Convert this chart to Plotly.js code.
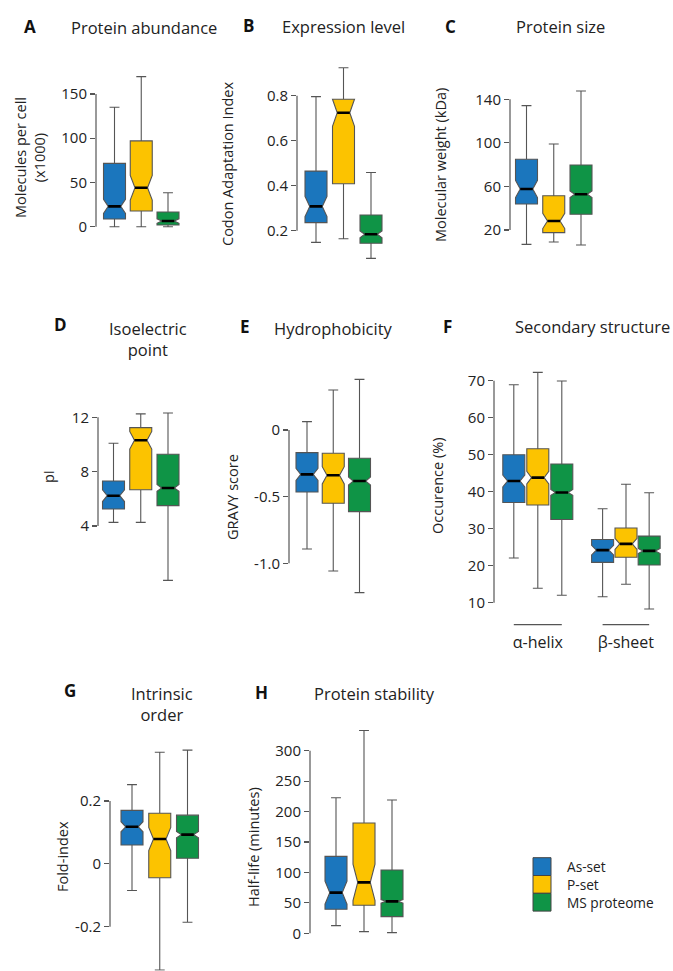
<!DOCTYPE html>
<html>
<head>
<meta charset="utf-8">
<script src="https://cdn.plot.ly/plotly-3.0.1.min.js"></script>
<style>html,body{margin:0;padding:0;background:#fff;}#chart{width:673px;height:971px;}</style>
</head>
<body>
<div id="chart"></div>
<script>
// ---------- DATA ----------
const groupNames = ['As-set', 'P-set', 'MS proteome'];

// A  Protein abundance (molecules per cell x1000)
const abundanceLow    = [0, 0, 0];
const abundanceQ1     = [8.7, 17.7, 1.9];
const abundanceMedian = [23, 44, 6.4];
const abundanceQ3     = [71.6, 97, 16.6];
const abundanceHigh   = [135, 169.6, 38.4];
const abundanceNotch  = [8, 14, 2.5];
const abundanceTicks  = [0, 50, 100, 150];
const abundanceTickText = ['0', '50', '100', '150'];

// B  Expression level (codon adaptation index)
const caiLow    = [0.148, 0.164, 0.077];
const caiQ1     = [0.236, 0.409, 0.144];
const caiMedian = [0.308, 0.724, 0.184];
const caiQ3     = [0.465, 0.784, 0.27];
const caiHigh   = [0.796, 0.924, 0.459];
const caiNotch  = [0.045, 0.06, 0.015];
const caiTicks  = [0.2, 0.4, 0.6, 0.8];
const caiTickText = ['0.2', '0.4', '0.6', '0.8'];

// C  Protein size (kDa)
const mwLow    = [6.8, 9, 6.2];
const mwQ1     = [43.9, 17.6, 34.4];
const mwMedian = [57.6, 28.3, 52.8];
const mwQ3     = [84.9, 51.5, 79.7];
const mwHigh   = [134.2, 99, 147.6];
const mwNotch  = [8, 7, 3];
const mwTicks  = [20, 60, 100, 140];
const mwTickText = ['20', '60', '100', '140'];

// D  Isoelectric point
const piLow    = [4.27, 4.27, 0];
const piQ1     = [5.25, 6.67, 5.5];
const piMedian = [6.23, 10.31, 6.8];
const piQ3     = [7.31, 11.24, 9.28];
const piHigh   = [10.09, 12.25, 12.32];
const piNotch  = [0.43, 0.65, 0.25];
const piTicks  = [4, 8, 12];
const piTickText = ['4', '8', '12'];

// E  Hydrophobicity (GRAVY score)
const gravyLow    = [-0.893, -1.058, -1.22];
const gravyQ1     = [-0.465, -0.55, -0.6125];
const gravyMedian = [-0.333, -0.34, -0.383];
const gravyQ3     = [-0.17, -0.175, -0.2125];
const gravyHigh   = [0.0625, 0.3, 0.38];
const gravyNotch  = [0.045, 0.065, 0.03];
const gravyTicks  = [-1, -0.5, 0];
const gravyTickText = ['-1.0', '-0.5', '0'];

// F  Secondary structure (occurrence %)
const structureLabels = ['α-helix', 'β-sheet'];
const helixLow    = [22.1, 13.9, 12];
const helixQ1     = [37.1, 36.4, 32.5];
const helixMedian = [42.9, 43.8, 39.8];
const helixQ3     = [50, 51.6, 47.5];
const helixHigh   = [68.9, 72.25, 69.9];
const helixNotch  = [1.6, 1.7, 0.8];
const sheetLow    = [11.6, 15, 8.3];
const sheetQ1     = [20.9, 22.3, 20.2];
const sheetMedian = [24.2, 25.9, 24];
const sheetQ3     = [27.1, 30.2, 28];
const sheetHigh   = [35.4, 42, 39.7];
const sheetNotch  = [1.3, 1.5, 0.7];
const structureTicks = [10, 20, 30, 40, 50, 60, 70];
const structureTickText = ['10', '20', '30', '40', '50', '60', '70'];

// G  Intrinsic order (fold-index)
const foldLow    = [-0.085, -0.338, -0.186];
const foldQ1     = [0.06, -0.044, 0.018];
const foldMedian = [0.118, 0.079, 0.093];
const foldQ3     = [0.17, 0.161, 0.155];
const foldHigh   = [0.252, 0.355, 0.362];
const foldNotch  = [0.016, 0.037, 0.01];
const foldTicks  = [-0.2, 0, 0.2];
const foldTickText = ['-0.2', '0', '0.2'];

// H  Protein stability (half-life, minutes)
const halfLifeLow    = [12.6, 2.7, 1.1];
const halfLifeQ1     = [39.4, 46, 27.4];
const halfLifeMedian = [66.8, 83.7, 52.5];
const halfLifeQ3     = [126.4, 181.2, 104];
const halfLifeHigh   = [222.8, 333.3, 219];
const halfLifeNotch  = [19, 30, 3];
const halfLifeTicks  = [0, 50, 100, 150, 200, 250, 300];
const halfLifeTickText = ['0', '50', '100', '150', '200', '250', '300'];

// ---------- STYLE / LAYOUT ----------
const W = 673, H = 971;
const FONT = 'Open Sans, Noto Sans, sans-serif';
const TXT = '#222';
const groupColors = ['#1b76bd', '#fcc300', '#0f9446'];
const edgeColor = '#555';
const NOTCHW = 0.215;
const BOXPX = 22;

const px = x => x / W;
const py = y => 1 - y / H;

const panels = [
  {title: 'Protein abundance', letter: 'A', yTitle: 'Molecules per cell<br>(x1000)',
   sets: [[abundanceLow, abundanceQ1, abundanceMedian, abundanceQ3, abundanceHigh, abundanceNotch]],
   ticks: abundanceTicks, tickText: abundanceTickText,
   axisX: 96, c1: 114.5, s: 26.75, xw: 100, cal: [0, 226.7, 150, 94], range: [-6, 178],
   letterXY: [30, 26], titleXY: [144, 27], yTitleXY: [30, 158]},
  {title: 'Expression level', letter: 'B', yTitle: 'Codon Adaptation Index',
   sets: [[caiLow, caiQ1, caiMedian, caiQ3, caiHigh, caiNotch]],
   ticks: caiTicks, tickText: caiTickText,
   axisX: 297, c1: 316, s: 27.5, xw: 100, cal: [0.2, 230.7, 0.8, 95.7], range: [0.05, 0.95],
   letterXY: [248, 25], titleXY: [343.5, 26], yTitleXY: [227, 164]},
  {title: 'Protein size', letter: 'C', yTitle: 'Molecular weight (kDa)',
   sets: [[mwLow, mwQ1, mwMedian, mwQ3, mwHigh, mwNotch]],
   ticks: mwTicks, tickText: mwTickText,
   axisX: 510, c1: 526.5, s: 27.25, xw: 100, cal: [20, 230, 140, 99.3], range: [2, 152],
   letterXY: [451, 26], titleXY: [560, 26], yTitleXY: [440, 165]},
  {title: 'Isoelectric<br>point', letter: 'D', yTitle: 'pI',
   sets: [[piLow, piQ1, piMedian, piQ3, piHigh, piNotch]],
   ticks: piTicks, tickText: piTickText,
   axisX: 98, c1: 113.5, s: 27.25, xw: 100, cal: [4, 526, 12, 417.3], range: [-0.8, 13],
   letterXY: [60, 325], titleXY: [148, 339], yTitleXY: [48, 477]},
  {title: 'Hydrophobicity', letter: 'E', yTitle: 'GRAVY score',
   sets: [[gravyLow, gravyQ1, gravyMedian, gravyQ3, gravyHigh, gravyNotch]],
   ticks: gravyTicks, tickText: gravyTickText,
   axisX: 289, c1: 307, s: 26.25, xw: 100, cal: [0, 430, -1, 563.3], range: [-1.28, 0.42],
   letterXY: [245, 327], titleXY: [333.5, 328], yTitleXY: [232, 497]},
  {title: 'Secondary structure', letter: 'F', yTitle: 'Occurence (%)',
   sets: [[helixLow, helixQ1, helixMedian, helixQ3, helixHigh, helixNotch],
          [sheetLow, sheetQ1, sheetMedian, sheetQ3, sheetHigh, sheetNotch]],
   setPos: [[1, 2, 3], [4.7, 5.675, 6.64]], catLabels: structureLabels,
   ticks: structureTicks, tickText: structureTickText,
   axisX: 494, c1: 513.8, s: 24, xw: 176, cal: [70, 380.7, 10, 602.7], range: [6, 74],
   letterXY: [447, 327], titleXY: [592, 327], yTitleXY: [438, 486]},
  {title: 'Intrinsic<br>order', letter: 'G', yTitle: 'Fold-index',
   sets: [[foldLow, foldQ1, foldMedian, foldQ3, foldHigh, foldNotch]],
   ticks: foldTicks, tickText: foldTickText,
   axisX: 110, c1: 132, s: 27.75, xw: 100, cal: [0.2, 801, -0.2, 926.7], range: [-0.34, 0.38],
   letterXY: [70, 690], titleXY: [162, 704], yTitleXY: [62, 857]},
  {title: 'Protein stability', letter: 'H', yTitle: 'Half-life (minutes)',
   sets: [[halfLifeLow, halfLifeQ1, halfLifeMedian, halfLifeQ3, halfLifeHigh, halfLifeNotch]],
   ticks: halfLifeTicks, tickText: halfLifeTickText,
   axisX: 310, c1: 336, s: 28, xw: 100, cal: [300, 750.7, 0, 933.3], range: [-8, 345],
   letterXY: [261, 692], titleXY: [374, 693], yTitleXY: [253, 847]}
];

const traces = [];
const layout = {
  width: W, height: H, margin: {l: 0, r: 0, t: 0, b: 0},
  paper_bgcolor: '#fff', plot_bgcolor: 'rgba(0,0,0,0)',
  showlegend: false, font: {family: FONT, color: TXT},
  shapes: [], annotations: []
};

panels.forEach((p, i) => {
  const k = i + 1;
  const xid = 'x' + (k === 1 ? '' : k), yid = 'y' + (k === 1 ? '' : k);
  const xkey = 'xaxis' + (k === 1 ? '' : k), ykey = 'yaxis' + (k === 1 ? '' : k);
  const [v1, p1, v2, p2] = p.cal;
  const toPx = v => p1 + (v - v1) * (p2 - p1) / (v2 - v1);
  const bottom = toPx(p.range[0]), top = toPx(p.range[1]);
  const r0 = 1 - (p.c1 - p.axisX) / p.s;
  const boxW = BOXPX / p.s;
  const setPos = p.setPos || [[1, 2, 3]];

  layout[xkey] = {
    domain: [px(p.axisX), px(p.axisX + p.xw)], range: [r0, r0 + p.xw / p.s],
    anchor: yid, showgrid: false, zeroline: false, showline: false, ticks: '',
    showticklabels: !!p.catLabels, fixedrange: true
  };
  if (p.catLabels) {
    layout[xkey].tickvals = setPos.map(a => (a[0] + a[a.length - 1]) / 2);
    layout[xkey].ticktext = p.catLabels;
    layout[xkey].tickfont = {size: 16, color: TXT, family: FONT};
    layout[xkey].ticklabelstandoff = 13;
    setPos.forEach(a => layout.shapes.push({
      type: 'line', xref: xid, yref: 'paper', x0: a[0], x1: a[a.length - 1],
      y0: py(624.7), y1: py(624.7), line: {color: edgeColor, width: 1.2}
    }));
  }
  layout[ykey] = {
    domain: [py(bottom), py(top)], range: p.range, anchor: xid,
    showgrid: false, zeroline: false, showline: false,
    tickvals: p.ticks, ticktext: p.tickText, ticks: 'outside', ticklen: 5,
    tickwidth: 1.1, tickcolor: edgeColor, tickfont: {size: 15, color: TXT, family: FONT},
    fixedrange: true
  };
  // axis line spanning the tick range (R-style)
  layout.shapes.push({
    type: 'line', xref: xid + ' domain', yref: yid, x0: 0, x1: 0,
    y0: Math.min(...p.ticks), y1: Math.max(...p.ticks), line: {color: edgeColor, width: 1.2}
  });

  p.sets.forEach((st, si) => {
    const [lo, q1, med, q3, hi, notch] = st;
    groupNames.forEach((g, gi) => {
      const pos = setPos[si][gi];
      traces.push({
        type: 'box', name: g, x: [pos], q1: [q1[gi]], median: [med[gi]], q3: [q3[gi]],
        lowerfence: [lo[gi]], upperfence: [hi[gi]], notchspan: [notch[gi]],
        notched: true, notchwidth: NOTCHW, width: boxW, whiskerwidth: 0.45,
        boxpoints: false, fillcolor: groupColors[gi], line: {color: edgeColor, width: 1.1},
        xaxis: xid, yaxis: yid, hoverinfo: 'skip', showlegend: false
      });
      const half = boxW / 2 * (1 - 2 * NOTCHW);
      traces.push({
        type: 'scatter', mode: 'lines', x: [pos - half, pos + half], y: [med[gi], med[gi]],
        line: {color: '#000', width: 2.6}, xaxis: xid, yaxis: yid, hoverinfo: 'skip', showlegend: false
      });
    });
  });

  layout.annotations.push({
    text: '<b>' + p.letter + '</b>', xref: 'paper', yref: 'paper',
    x: px(p.letterXY[0]), y: py(p.letterXY[1]), xanchor: 'center', yanchor: 'middle',
    showarrow: false, font: {size: 17, color: '#111', family: FONT}
  });
  layout.annotations.push({
    text: p.title, xref: 'paper', yref: 'paper',
    x: px(p.titleXY[0]), y: py(p.titleXY[1]), xanchor: 'center', yanchor: 'middle',
    showarrow: false, font: {size: 16.5, color: TXT, family: FONT}
  });
  layout.annotations.push({
    text: p.yTitle, xref: 'paper', yref: 'paper', textangle: -90,
    x: px(p.yTitleXY[0]), y: py(p.yTitleXY[1]), xanchor: 'center', yanchor: 'middle',
    showarrow: false, font: {size: 14.5, color: TXT, family: FONT}
  });
});

// legend (colour key)
const legendTop = 857.7, legendStep = 17.8, legendX0 = 533, legendX1 = 551;
groupNames.forEach((g, gi) => {
  const y0 = legendTop + gi * legendStep;
  layout.shapes.push({
    type: 'rect', xref: 'paper', yref: 'paper', x0: px(legendX0), x1: px(legendX1),
    y0: py(y0), y1: py(y0 + legendStep), fillcolor: groupColors[gi],
    line: {color: '#444', width: 1}
  });
});
layout.annotations.push({
  text: groupNames.join('<br>'), xref: 'paper', yref: 'paper', x: px(565),
  y: py(legendTop + 1.5 * legendStep), xanchor: 'left', yanchor: 'middle', align: 'left',
  showarrow: false, font: {size: 13.7, color: TXT, family: FONT}
});

Plotly.newPlot('chart', traces, layout, {displayModeBar: false, staticPlot: true});
</script>
</body>
</html>
